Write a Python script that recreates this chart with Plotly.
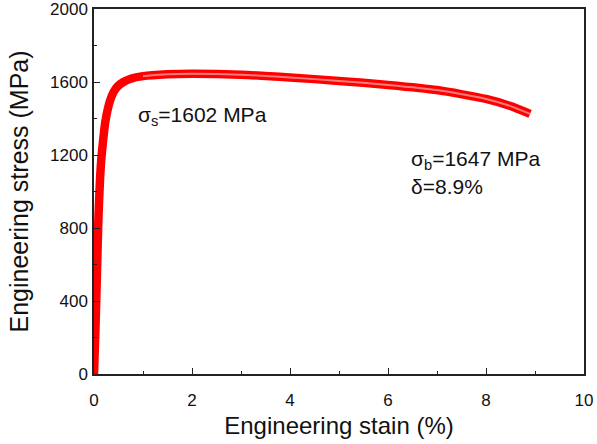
import plotly.graph_objects as go

# Engineering strain (%) and engineering stress (MPa)
strain = [0.0, 0.03, 0.06, 0.09, 0.12, 0.15, 0.19, 0.23, 0.28, 0.33, 0.40,
          0.48, 0.60, 0.75, 1.0, 1.5, 2.0, 3.0, 4.0, 5.0, 6.0, 7.0, 8.0, 8.5, 8.9]
stress = [0, 250, 550, 850, 1050, 1180, 1290, 1380, 1450, 1500, 1545,
          1575, 1600, 1618, 1632, 1642, 1645, 1640, 1625, 1606, 1584, 1556, 1507, 1468, 1425]

x_ticks = [0, 2, 4, 6, 8, 10]
y_ticks = [0, 400, 800, 1200, 1600, 2000]

FONT = "Liberation Sans, Arial, sans-serif"

fig = go.Figure()
fig.add_trace(go.Scatter(x=strain, y=stress, mode="lines",
                         line=dict(color="#ff0000", width=8.5, shape="spline", smoothing=0.6),
                         showlegend=False, hoverinfo="skip"))
# lighter core for the hollow-marker look of the plastic part
fig.add_trace(go.Scatter(x=strain[14:], y=stress[14:], mode="lines",
                         line=dict(color="#f79a9a", width=2, shape="spline", smoothing=0.6),
                         opacity=0.8, showlegend=False, hoverinfo="skip"))

axis_common = dict(showline=True, linecolor="#222", linewidth=1.5, mirror=True,
                   showgrid=False, zeroline=False, ticks="inside", ticklen=6,
                   tickcolor="#222", tickwidth=1.2, automargin=False,
                   ticklabeloverflow="allow",
                   tickfont=dict(family=FONT, size=17, color="#111"))

fig.update_xaxes(range=[0, 10], tickvals=x_ticks, ticktext=[str(v) for v in x_ticks],
                 minor=dict(dtick=1, ticks="inside", ticklen=3, tickcolor="#222"),
                 ticklabelstandoff=10,
                 title=dict(text="Engineering stain (%)", standoff=8,
                            font=dict(family=FONT, size=24, color="#111")),
                 **axis_common)
fig.update_yaxes(range=[0, 2000], tickvals=y_ticks, ticktext=[str(v) for v in y_ticks],
                 minor=dict(dtick=200, ticks="inside", ticklen=3, tickcolor="#222"),
                 ticklabelstandoff=1,
                 title=dict(text="Engineering stress (MPa)", standoff=14,
                            font=dict(family=FONT, size=25, color="#111")),
                 **axis_common)

ann_font = dict(family=FONT, size=21, color="#111")
fig.add_annotation(x=0.86, y=1414, xref="x", yref="y", xanchor="left", yanchor="middle",
                   text="σ<sub>s</sub>=1602 MPa", showarrow=False, font=ann_font)
fig.add_annotation(x=6.43, y=1173, xref="x", yref="y", xanchor="left", yanchor="middle",
                   text="σ<sub>b</sub>=1647 MPa", showarrow=False, font=ann_font)
fig.add_annotation(x=6.43, y=1025, xref="x", yref="y", xanchor="left", yanchor="middle",
                   text="δ=8.9%", showarrow=False, font=ann_font)

fig.update_layout(width=597, height=444, margin=dict(l=94, r=13, t=9, b=70),
                  paper_bgcolor="white", plot_bgcolor="white")

fig.write_html("out.html", config={"displayModeBar": False},
               post_script="document.body.style.margin='0';document.body.style.overflow='hidden';")
